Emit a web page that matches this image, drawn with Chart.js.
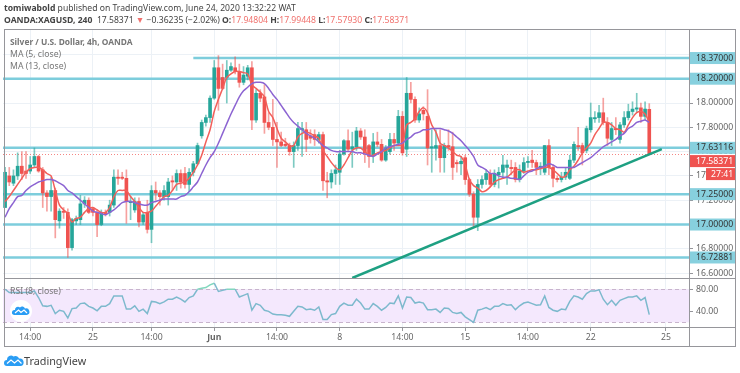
<!doctype html>
<html lang="en">
<head>
<meta charset="utf-8">
<title>XAGUSD 4h</title>
<style>
	html, body { margin: 0; padding: 0; background: #fff; overflow: hidden; }
	body { width: 740px; height: 373px; position: relative; font-family: 'Noto Sans', sans-serif; color: #555; filter: blur(0.35px); }
	canvas { position: absolute; left: 0; top: 0; }
	.t { position: absolute; white-space: nowrap; }
	.hd { font-size: 8.6px; line-height: 12px; color: #444; left: 4px; }
	.lg { font-size: 8.7px; line-height: 12px; color: #777; left: 10px; }
	.lg b { font-size: 8.4px; }
	.hd .r { color: #f0716d; }
</style>
<script src="https://cdn.jsdelivr.net/npm/chart.js@4/dist/chart.umd.js"></script>
</head>
<body>
<canvas id="chart" width="740" height="373"></canvas>
<div class="t hd" style="top:2px"><b>tomiwabold</b> published on TradingView.com, June 24, 2020 13:32:22 WAT</div>
<div class="t hd" style="top:14px"><b>OANDA:XAGUSD, 240</b>&nbsp; 17.58371 <span class="r">▼</span> −0.36235 (−2.02%) <b>O:</b><span class="r">17.94804</span> <b>H:</b><span class="r">17.99448</span> <b>L:</b><span class="r">17.57930</span> <b>C:</b><span class="r">17.58371</span></div>
<div class="t lg" style="top:36px"><b>Silver / U.S. Dollar, 4h, OANDA</b></div>
<div class="t lg" style="top:48px">MA (5, close)</div>
<div class="t lg" style="top:60px">MA (13, close)</div>
<div class="t lg" style="top:285px">RSI (8, close)</div>
<svg class="t" style="left:10px;top:300px" width="22" height="22" viewBox="0 0 22 22">
	<circle cx="11" cy="11" r="11" fill="#fff"/>
	<path d="M4 15 a2.5 2.5 0 0 1 1-5 a3 3 0 0 1 5-2.5 a3 3 0 0 1 5 1 a3 3 0 0 1 2 6.5z" fill="#2a9df4"/>
	<path d="M5 13 L8.5 10 L11 12.5 L14 10 L17 13" fill="none" stroke="#fff" stroke-width="1.2"/>
</svg>
<svg class="t" style="left:4px;top:354px" width="20" height="13" viewBox="0 0 20 13">
	<path d="M3 12 a3 3 0 0 1 0-6 a4 4 0 0 1 6.5-3.5 a4 4 0 0 1 5.5 2 a3.5 3.5 0 0 1 1.5 7.5z" fill="#2a9df4"/>
	<path d="M3 9.5 L7 6 L10.5 9 L14 6 L17.5 9.5" fill="none" stroke="#fff" stroke-width="1.2"/>
</svg>
<div class="t" style="left:24px;top:353px;font-size:10.8px;color:#444">TradingView</div>
<script>
// candles (4h bars)
const opens = [17.14,17.40,17.34,17.40,17.48,17.44,17.44,17.49,17.56,17.45,17.26,17.23,17.28,17.03,17.11,17.10,16.81,17.03,17.04,17.17,
	17.20,17.13,17.10,17.00,17.10,17.10,17.16,17.39,17.39,17.38,17.18,17.12,17.19,17.02,17.10,16.96,17.28,17.26,17.23,17.23,
	17.36,17.35,17.42,17.42,17.33,17.43,17.50,17.73,17.84,17.88,18.04,18.29,18.21,18.21,18.27,18.29,18.26,18.17,18.22,18.29,
	17.86,18.08,18.05,17.84,17.80,17.70,17.68,17.66,17.65,17.60,17.65,17.78,17.78,17.73,17.74,17.70,17.74,17.36,17.35,17.42,
	17.43,17.58,17.69,17.62,17.64,17.77,17.72,17.65,17.57,17.68,17.66,17.53,17.60,17.70,17.67,17.89,17.62,18.08,18.03,17.86,
	17.94,17.89,17.63,17.63,17.65,17.55,17.65,17.64,17.51,17.50,17.55,17.37,17.25,17.06,17.33,17.37,17.42,17.33,17.41,17.43,
	17.47,17.47,17.47,17.37,17.44,17.51,17.53,17.51,17.47,17.43,17.65,17.47,17.38,17.37,17.39,17.38,17.53,17.65,17.65,17.61,
	17.78,17.87,17.88,17.92,17.84,17.70,17.79,17.70,17.82,17.88,17.93,17.95,17.96,17.89,17.94804];
const highs = [17.47,17.47,17.45,17.59,17.60,17.60,17.56,17.63,17.57,17.47,17.28,17.39,17.30,17.13,17.14,17.13,17.05,17.07,17.24,17.23,
	17.22,17.14,17.12,17.12,17.12,17.20,17.45,17.45,17.43,17.45,17.23,17.22,17.22,17.10,17.20,17.32,17.35,17.28,17.32,17.38,
	17.40,17.45,17.45,17.47,17.46,17.52,17.67,17.86,17.90,18.06,18.35,18.39,18.32,18.35,18.33,18.38,18.32,18.30,18.31,18.34,
	18.11,18.11,18.15,17.92,18.03,17.84,17.76,17.71,17.67,17.68,17.84,17.84,17.84,17.78,17.78,17.76,17.76,17.43,17.45,17.49,
	17.61,17.70,17.78,17.76,17.80,17.79,17.78,17.66,17.75,17.76,17.70,17.65,17.75,17.75,17.94,17.93,18.21,18.17,18.05,17.96,
	17.97,18.11,17.78,17.78,17.78,17.67,17.78,17.76,17.53,17.56,17.57,17.38,17.27,17.37,17.40,17.45,17.45,17.45,17.47,17.57,
	17.53,17.53,17.51,17.49,17.55,17.56,17.61,17.53,17.51,17.65,17.70,17.49,17.40,17.43,17.47,17.57,17.68,17.80,17.67,17.81,
	18.00,17.93,17.98,18.04,17.88,17.84,17.88,17.84,17.93,17.99,18.01,18.08,18.00,18.01,17.99448];
const lows = [17.14,17.32,17.32,17.37,17.37,17.38,17.42,17.47,17.43,17.14,17.11,17.11,16.89,16.97,17.05,16.73,16.79,17.00,17.00,17.14,
	17.09,17.07,16.90,16.99,17.07,17.07,17.14,17.33,17.37,17.01,17.04,17.10,16.98,17.00,16.93,16.85,17.20,17.16,17.20,17.16,
	17.28,17.28,17.30,17.30,17.27,17.40,17.49,17.71,17.81,17.84,18.03,17.94,18.11,18.00,18.26,18.24,18.13,18.15,18.19,17.78,
	17.84,18.01,17.75,17.78,17.65,17.47,17.64,17.64,17.57,17.47,17.61,17.56,17.60,17.67,17.65,17.67,17.28,17.22,17.30,17.33,
	17.33,17.57,17.60,17.47,17.61,17.70,17.51,17.47,17.51,17.64,17.52,17.52,17.58,17.61,17.65,17.57,17.56,18.00,17.84,17.84,
	17.86,17.49,17.43,17.53,17.43,17.43,17.61,17.37,17.43,17.41,17.33,17.23,16.98,16.95,17.30,17.33,17.31,17.31,17.30,17.38,
	17.33,17.41,17.35,17.35,17.42,17.47,17.47,17.41,17.41,17.41,17.41,17.31,17.35,17.35,17.37,17.37,17.51,17.61,17.49,17.59,
	17.76,17.84,17.84,17.82,17.65,17.65,17.74,17.67,17.80,17.86,17.90,17.92,17.84,17.86,17.5793];
const closes = [17.43,17.35,17.40,17.48,17.42,17.42,17.49,17.56,17.44,17.26,17.23,17.28,17.04,17.11,17.10,16.81,17.04,17.05,17.17,17.20,
	17.10,17.10,17.00,17.10,17.09,17.16,17.39,17.38,17.38,17.19,17.19,17.19,17.02,17.08,16.96,17.28,17.26,17.23,17.28,17.35,
	17.35,17.42,17.35,17.33,17.43,17.50,17.65,17.84,17.88,18.04,18.29,18.12,18.12,18.27,18.30,18.26,18.17,18.23,18.29,17.86,
	18.08,18.04,17.84,17.80,17.70,17.68,17.65,17.65,17.60,17.65,17.79,17.79,17.70,17.71,17.70,17.74,17.36,17.35,17.42,17.45,
	17.58,17.69,17.62,17.64,17.77,17.72,17.59,17.56,17.68,17.66,17.53,17.63,17.70,17.67,17.89,17.59,18.08,18.03,17.86,17.91,
	17.91,17.63,17.64,17.65,17.55,17.65,17.64,17.47,17.50,17.52,17.37,17.25,17.06,17.33,17.37,17.42,17.33,17.42,17.43,17.49,
	17.49,17.46,17.37,17.44,17.51,17.52,17.51,17.47,17.48,17.65,17.47,17.38,17.37,17.39,17.43,17.53,17.66,17.64,17.59,17.79,
	17.88,17.88,17.92,17.84,17.71,17.79,17.78,17.82,17.88,17.93,17.95,17.96,17.89,17.95,17.58371];

const ma5 = [17.19,17.23,17.28,17.33,17.38,17.43,17.46,17.47,17.47,17.45,17.42,17.40,17.28,17.16,17.12,17.09,17.02,17.05,17.06,17.10,
	17.13,17.14,17.12,17.10,17.10,17.14,17.23,17.28,17.28,17.28,17.23,17.19,17.14,17.10,17.10,17.11,17.15,17.19,17.23,17.24,
	17.28,17.33,17.34,17.35,17.38,17.43,17.49,17.57,17.68,17.78,17.93,18.03,18.12,18.21,18.24,18.26,18.26,18.25,18.24,18.15,
	18.12,18.09,18.05,17.93,17.88,17.79,17.71,17.68,17.65,17.65,17.72,17.75,17.76,17.75,17.73,17.71,17.61,17.56,17.51,17.47,
	17.45,17.49,17.55,17.61,17.63,17.63,17.60,17.57,17.57,17.59,17.60,17.61,17.63,17.65,17.65,17.66,17.82,17.84,17.87,17.93,
	17.96,17.92,17.82,17.76,17.67,17.65,17.63,17.60,17.57,17.56,17.49,17.37,17.32,17.30,17.27,17.28,17.31,17.35,17.37,17.38,
	17.39,17.42,17.45,17.45,17.43,17.44,17.45,17.45,17.46,17.47,17.47,17.45,17.42,17.39,17.40,17.45,17.48,17.53,17.59,17.63,
	17.67,17.74,17.79,17.84,17.84,17.82,17.79,17.78,17.76,17.82,17.88,17.92,17.93,17.91,17.84];
const ma13 = [17.06,17.13,17.18,17.23,17.24,17.28,17.31,17.33,17.35,17.36,17.37,17.37,17.36,17.34,17.32,17.28,17.26,17.23,17.20,17.17,
	17.14,17.11,17.10,17.09,17.08,17.10,17.12,17.15,17.18,17.19,17.19,17.18,17.17,17.16,17.16,17.18,17.19,17.20,17.21,17.21,
	17.21,17.21,17.23,17.24,17.27,17.31,17.35,17.42,17.49,17.55,17.60,17.67,17.75,17.83,17.91,17.98,18.05,18.10,18.13,18.16,
	18.17,18.17,18.16,18.12,18.07,18.03,17.98,17.93,17.88,17.84,17.81,17.78,17.75,17.73,17.71,17.68,17.65,17.63,17.61,17.60,
	17.60,17.60,17.60,17.60,17.59,17.59,17.58,17.57,17.56,17.58,17.60,17.63,17.64,17.65,17.66,17.67,17.70,17.72,17.75,17.76,
	17.78,17.78,17.79,17.79,17.79,17.78,17.77,17.75,17.72,17.69,17.65,17.61,17.56,17.49,17.47,17.45,17.42,17.42,17.40,17.39,
	17.39,17.38,17.38,17.37,17.40,17.43,17.44,17.46,17.47,17.48,17.50,17.49,17.47,17.47,17.47,17.47,17.47,17.49,17.51,17.53,
	17.55,17.58,17.61,17.64,17.66,17.68,17.70,17.73,17.75,17.79,17.81,17.84,17.85,17.86,17.84];
const rsi = [80,74,74,74,74,74,74,77,65,50,49,51,36,42,40,28,45,46,54,55,
	49,46,41,49,49,54,68,68,68,44,44,50,40,44,36,58,57,54,57,62,
	62,66,62,57,65,68,80,82,83,88,91,76,78,80,80,80,66,69,72,42,
	54,51,42,40,35,34,34,33,31,40,49,48,43,44,42,48,25,25,34,36,
	49,55,51,51,62,55,44,44,54,49,42,47,55,54,68,46,66,65,55,57,
	55,43,43,44,38,46,45,38,36,38,30,25,20,42,44,47,43,49,49,54,
	51,52,43,50,55,57,54,51,52,68,47,42,40,44,43,58,68,66,62,72,
	77,77,79,62,52,60,51,60,63,66,66,68,60,65,34];

const barCount = 164;
const tickIndexes = [6, 21, 35, 50, 65, 80, 95, 110, 125, 140, 158];
const tickNames = ['14:00', '25', '14:00', 'Jun', '14:00', '8', '14:00', '15', '14:00', '22', '25'];
const priceTicks = [18.4, 18.2, 18.0, 17.8, 17.6, 17.4, 17.2, 17.0, 16.8, 16.6];
const rsiTicks = [80, 40];
const rsiBand = [80, 20];
const levelPrices = [18.37, 18.2, 17.63116, 17.25, 17.0, 16.72881];
const levelStarts = [45, 0, 0, 0, 0, 0];
const lastPrice = 17.58371;
const countdown = '27:41';
const trendIndexes = [83, 157];
const trendPrices = [16.56, 17.62];

const red = 'rgb(239,83,80)', green = 'rgb(38,166,154)';
const axisFont = { family: "'Noto Sans'", size: 8.7 };
const labels = [];
for (let i = 0; i < barCount; i++) labels.push(i);
const isUp = closes.map((c, i) => c >= opens[i]);
const trendLine = labels.map(i => {
	const k = trendIndexes.indexOf(i);
	return k < 0 ? null : trendPrices[k];
});

// levels, rsi band, tags and the frame
const overlay = {
	id: 'overlay',
	beforeDatasetsDraw(chart) {
		const c = chart.ctx, a = chart.chartArea, x = chart.scales.x, y = chart.scales.y, r = chart.scales.rsi;
		c.save();
		c.fillStyle = 'rgb(244,232,253)';
		c.fillRect(a.left, r.getPixelForValue(rsiBand[0]), a.right - a.left, r.getPixelForValue(rsiBand[1]) - r.getPixelForValue(rsiBand[0]));
		c.strokeStyle = 'rgb(200,180,205)';
		c.setLineDash([4, 3]);
		c.lineWidth = 1;
		rsiBand.forEach(v => {
			c.beginPath();
			c.moveTo(a.left, Math.round(r.getPixelForValue(v)) + 0.5);
			c.lineTo(a.right, Math.round(r.getPixelForValue(v)) + 0.5);
			c.stroke();
		});
		c.setLineDash([]);
		c.strokeStyle = 'rgb(125,205,220)';
		c.lineWidth = 2.5;
		levelPrices.forEach((v, i) => {
			c.beginPath();
			c.moveTo(levelStarts[i] ? x.getPixelForValue(levelStarts[i]) : a.left, y.getPixelForValue(v));
			c.lineTo(a.right, y.getPixelForValue(v));
			c.stroke();
		});
		c.strokeStyle = 'rgba(239,83,80,0.7)';
		c.lineWidth = 1;
		c.setLineDash([1, 2]);
		c.beginPath();
		c.moveTo(a.left, Math.round(y.getPixelForValue(lastPrice)) + 0.5);
		c.lineTo(a.right, Math.round(y.getPixelForValue(lastPrice)) + 0.5);
		c.stroke();
		c.restore();
	},
	afterDraw(chart) {
		const c = chart.ctx, a = chart.chartArea, y = chart.scales.y;
		c.save();
		c.font = "8.7px 'Noto Sans'";
		c.textBaseline = 'middle';
		c.textAlign = 'left';
		levelPrices.forEach(v => {
			const py = y.getPixelForValue(v);
			c.fillStyle = 'rgb(135,208,222)';
			c.fillRect(a.right + 1, py - 6, 46, 12);
			c.fillStyle = '#333';
			c.fillText(v.toFixed(5), a.right + 7, py);
		});
		// the price tag sits just under the line, the countdown under that
		const ly = y.getPixelForValue(lastPrice) + 7.5;
		c.fillStyle = red;
		c.fillRect(a.right + 1, ly - 6, 46, 12);
		c.fillRect(a.right + 17, ly + 7, 30, 12);
		c.fillStyle = '#fff';
		c.fillText(lastPrice.toFixed(5), a.right + 7, ly);
		c.fillText(countdown, a.right + 22, ly + 13);
		// frame and the pane divider
		c.strokeStyle = 'rgb(150,150,155)';
		c.lineWidth = 1;
		c.strokeRect(4.5, 29.5, 731, 317);
		c.beginPath();
		c.moveTo(4.5, 278.5);
		c.lineTo(735.5, 278.5);
		c.moveTo(4.5, a.bottom + 0.5);
		c.lineTo(735.5, a.bottom + 0.5);
		c.moveTo(a.right + 0.5, 29.5);
		c.lineTo(a.right + 0.5, 346.5);
		c.stroke();
		c.restore();
	}
};

new Chart(document.getElementById('chart'), {
	type: 'bar',
	data: {
		labels: labels,
		datasets: [
			{ type: 'line', data: trendLine, yAxisID: 'y', order: 1, spanGaps: true, borderColor: 'rgb(30,160,130)', borderWidth: 2.5, pointRadius: 0 },
			{ type: 'line', data: ma5, yAxisID: 'y', order: 3, borderColor: 'rgb(242,95,90)', borderWidth: 1.5, pointRadius: 0, tension: 0.3 },
			{ type: 'line', data: ma13, yAxisID: 'y', order: 2, borderColor: 'rgb(140,100,210)', borderWidth: 1.5, pointRadius: 0, tension: 0.3 },
			{ type: 'line', data: rsi, yAxisID: 'rsi', order: 4, borderColor: 'rgb(125,185,205)', borderWidth: 1.5, pointRadius: 0,
				segment: { borderColor: s => (s.p0.parsed.y >= 80 && s.p1.parsed.y >= 80 ? 'rgb(130,215,190)' : undefined) } },
			{ data: opens.map((o, i) => [o, closes[i]]), yAxisID: 'y', order: 5, barThickness: 3, grouped: false,
				backgroundColor: isUp.map(u => (u ? green : red)) },
			{ data: lows.map((l, i) => [l, highs[i]]), yAxisID: 'y', order: 6, barThickness: 1, grouped: false,
				backgroundColor: isUp.map(u => (u ? 'rgba(38,166,154,0.6)' : 'rgba(239,83,80,0.55)')) }
		]
	},
	plugins: [overlay],
	options: {
		animation: false,
		responsive: false,
		events: [],
		layout: { padding: { left: 3, right: 4, top: 29, bottom: 26 } },
		plugins: { legend: { display: false }, tooltip: { enabled: false } },
		scales: {
			x: {
				type: 'category',
				offset: true,
				grid: { offset: false, color: 'rgb(236,241,246)', tickLength: 4, tickColor: 'rgb(150,150,155)' },
				border: { display: false },
				afterBuildTicks: s => { s.ticks = tickIndexes.map(v => ({ value: v })); },
				afterFit: s => { s.height = 20; },
				ticks: {
					autoSkip: false,
					maxRotation: 0,
					padding: 1,
					color: '#666',
					font: c => ({ family: axisFont.family, size: axisFont.size, weight: tickNames[c.index] === 'Jun' ? 'bold' : 'normal' }),
					callback: (v, i) => tickNames[i]
				}
			},
			y: {
				position: 'right',
				stack: 'panes',
				stackWeight: 249,
				min: 16.56,
				max: 18.609,
				grid: { color: 'rgb(236,241,246)', tickLength: 4, tickColor: 'rgb(150,150,155)' },
				border: { display: false },
				afterBuildTicks: s => { s.ticks = priceTicks.map(v => ({ value: v })); },
				afterFit: s => { s.width = 47; },
				// the 18.40 label is hidden behind the 18.37 tag in the original
				ticks: { color: '#666', padding: 3, font: axisFont, callback: v => (v > 18.3 ? '' : v.toFixed(5)) }
			},
			rsi: {
				position: 'right',
				stack: 'panes',
				stackWeight: 49,
				min: 11.6,
				max: 100.4,
				grid: { color: 'rgb(230,225,240)', tickLength: 4, tickColor: 'rgb(150,150,155)' },
				border: { display: false },
				afterBuildTicks: s => { s.ticks = rsiTicks.map(v => ({ value: v })); },
				afterFit: s => { s.width = 47; },
				ticks: { color: '#666', padding: 3, font: axisFont, callback: v => v.toFixed(2) }
			}
		}
	}
});
</script>
</body>
</html>
